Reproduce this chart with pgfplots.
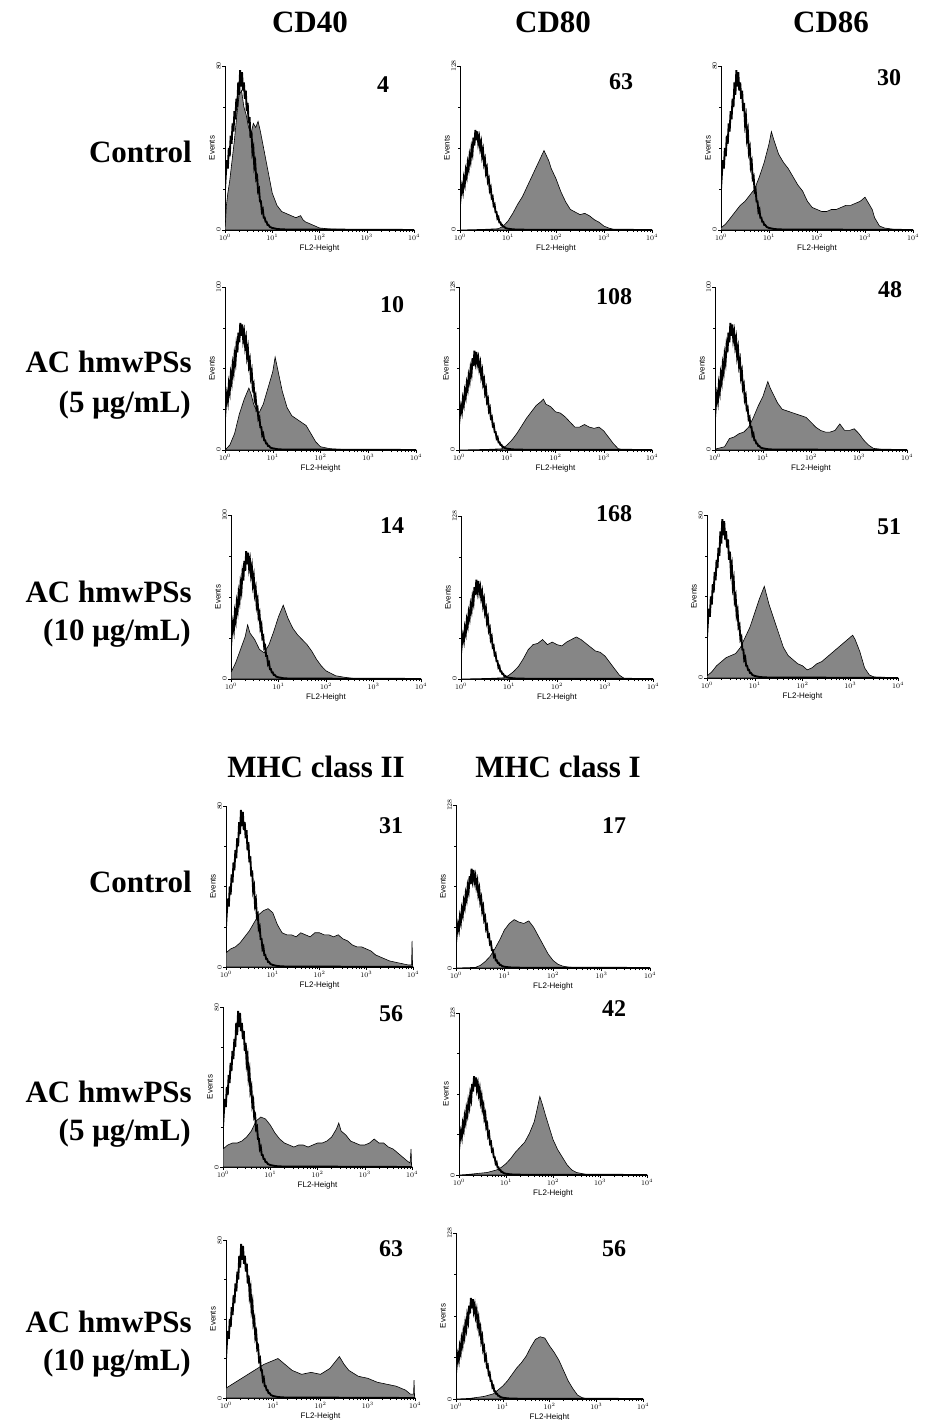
\documentclass[border=0pt]{standalone}
\usepackage{fontspec}
\setmainfont{Liberation Serif}
\setsansfont{Liberation Sans}
\usepackage{pgfplots}
\usepackage{pgfplotstable}
\pgfplotsset{compat=1.18}

% isotype control (same in every panel), x = log10(FL2)
\pgfplotstableread{
x y
0.00 20
0.02 28
0.04 34
0.06 30
0.08 40
0.10 36
0.12 46
0.14 42
0.16 52
0.18 48
0.20 58
0.22 54
0.24 64
0.26 60
0.28 72
0.30 66
0.32 78
0.34 70
0.36 77
0.38 68
0.40 72
0.42 64
0.44 68
0.46 58
0.48 62
0.50 52
0.52 55
0.54 45
0.56 48
0.58 38
0.60 40
0.62 31
0.64 33
0.66 25
0.68 26
0.70 19
0.72 20
0.74 14
0.76 14
0.78 9
0.80 10
0.82 6
0.84 6
0.86 4
0.88 4
0.90 2.5
0.92 2.5
0.95 1.5
1.00 1
1.10 0.5
1.20 0.3
1.40 0.2
2.00 0.2
3.00 0.1
4.00 0
}\tCtl

% CD40 control
\pgfplotstableread{
x y
0 0
0.03 12
0.06 18
0.1 24
0.15 34
0.2 44
0.25 56
0.3 66
0.35 68
0.4 60
0.45 56
0.5 50
0.55 47
0.6 52
0.65 50
0.7 53
0.75 48
0.8 42
0.85 36
0.9 30
0.95 24
1.0 18
1.05 15
1.1 12
1.2 9
1.3 8
1.4 7
1.5 6
1.6 7
1.65 5
1.7 4
1.8 3
1.9 2
2.0 1
2.2 0.5
2.5 0.2
4 0
}\tA
% CD80 control
\pgfplotstableread{
x y
0 0
0.5 0.5
0.8 1
0.9 3
1.0 7
1.1 13
1.2 20
1.3 26
1.4 34
1.5 42
1.6 50
1.7 58
1.75 62
1.8 58
1.85 54
1.9 48
2.0 40
2.1 30
2.2 22
2.3 16
2.4 14
2.5 12
2.6 13
2.7 11
2.8 8
2.9 6
3.0 3
3.1 1.5
3.2 0.5
3.4 0.2
4 0
}\tB
% CD86 control
\pgfplotstableread{
x y
0 1
0.1 3
0.2 6
0.3 9
0.4 12
0.5 14
0.6 17
0.7 20
0.8 26
0.9 33
1.0 42
1.05 48
1.1 44
1.2 37
1.3 33
1.4 30
1.5 26
1.6 22
1.7 19
1.8 14
1.9 11
2.0 10
2.1 9
2.2 9
2.3 10
2.4 10
2.5 11
2.6 12
2.7 12
2.8 13
2.9 14
3.0 16
3.1 12
3.15 10
3.2 6
3.3 2
3.4 1
3.6 0.3
4 0
}\tC
% CD40 5
\pgfplotstableread{
x y
0 0
0.1 3
0.2 10
0.3 22
0.4 31
0.5 38
0.55 34
0.6 28
0.7 22
0.8 28
0.9 38
1.0 48
1.05 57
1.1 50
1.2 36
1.3 26
1.4 21
1.5 19
1.6 17
1.7 15
1.8 10
1.9 5
2.0 2
2.2 0.8
2.5 0.3
4 0
}\tD
% CD80 5
\pgfplotstableread{
x y
0 0
0.6 0.5
0.9 1
1.0 4
1.1 8
1.2 13
1.3 19
1.4 25
1.5 30
1.6 35
1.7 38
1.75 40
1.8 36
1.9 34
2.0 30
2.1 29
2.2 26
2.3 22
2.4 18
2.5 18
2.6 20
2.7 18
2.8 17
2.9 18
3.0 15
3.1 10
3.2 5
3.3 1
3.4 0.2
4 0
}\tE
% CD86 5
\pgfplotstableread{
x y
0 0.5
0.2 2
0.3 7
0.4 8
0.5 10
0.6 11
0.7 14
0.8 20
0.9 27
1.0 33
1.1 42
1.15 38
1.2 35
1.3 29
1.4 25
1.5 24
1.6 23
1.7 22
1.8 21
1.9 20
2.0 17
2.1 14
2.2 12
2.3 11
2.4 11
2.5 12
2.6 16
2.7 12
2.8 12
2.9 13
3.0 10
3.1 6
3.2 3
3.3 1
3.5 0.3
4 0
}\tF
% CD40 10
\pgfplotstableread{
x y
0 4
0.1 10
0.2 18
0.3 26
0.35 33
0.4 28
0.5 24
0.6 18
0.7 16
0.8 21
0.9 29
1.0 38
1.1 45
1.2 37
1.3 31
1.4 27
1.5 24
1.6 21
1.7 17
1.8 12
1.9 8
2.0 5
2.2 2
2.4 1
2.6 0.3
4 0
}\tG
% CD80 10
\pgfplotstableread{
x y
0 0
0.6 0.5
0.9 1
1.0 3
1.1 6
1.2 10
1.3 16
1.4 23
1.5 27
1.6 28
1.7 31
1.8 27
1.9 29
2.0 27
2.1 26
2.2 29
2.3 31
2.4 33
2.5 31
2.6 28
2.7 25
2.8 22
2.9 21
3.0 18
3.1 13
3.2 8
3.3 3
3.4 0.5
3.6 0
4 0
}\tH
% CD86 10
\pgfplotstableread{
x y
0 1
0.1 3
0.2 6
0.3 8
0.4 10
0.5 11
0.6 12
0.7 15
0.8 20
0.9 25
1.0 32
1.1 39
1.2 45
1.3 36
1.4 29
1.5 22
1.6 15
1.7 11
1.8 9
1.9 7
2.0 6
2.1 4
2.2 5
2.3 7
2.4 8
2.5 10
2.6 12
2.7 14
2.8 16
2.9 18
3.0 20
3.05 21
3.1 19
3.2 13
3.3 5
3.4 1.5
3.5 0.5
4 0
}\tI
% MHC II control
\pgfplotstableread{
x y
0 7
0.1 9
0.2 10
0.3 12
0.4 15
0.5 18
0.6 22
0.7 26
0.8 28
0.9 29
1.0 27
1.1 21
1.2 17
1.3 16
1.4 16
1.5 15
1.6 17
1.7 16
1.8 15
1.9 17
2.0 17
2.1 16
2.2 16
2.3 15
2.4 16
2.5 14
2.6 13
2.7 11
2.8 10
2.9 10
3.0 9
3.1 8
3.2 6
3.3 5
3.4 4
3.5 3
3.6 2.5
3.7 2
3.8 1.5
3.9 1
3.97 1
3.98 13
3.99 1
4 0
}\tJ
% MHC I control
\pgfplotstableread{
x y
0 0
0.4 0.5
0.5 2
0.6 5
0.7 9
0.8 15
0.9 22
1.0 30
1.1 35
1.2 38
1.3 36
1.4 35
1.5 37
1.6 32
1.7 25
1.8 18
1.9 11
2.0 6
2.1 3
2.2 1.5
2.3 0.8
2.5 0.2
4 0
}\tK
% MHC II 5
\pgfplotstableread{
x y
0 9
0.1 11
0.2 12
0.3 12
0.4 13
0.5 15
0.6 18
0.7 23
0.8 25
0.9 24
1.0 21
1.1 17
1.2 14
1.3 12
1.4 11
1.5 10
1.6 11
1.7 11
1.8 10
1.9 11
2.0 12
2.1 12
2.2 13
2.3 15
2.4 19
2.45 22
2.5 18
2.6 16
2.7 13
2.8 12
2.9 11
3.0 11
3.1 12
3.2 14
3.3 12
3.4 12
3.5 10
3.6 9
3.7 7
3.8 5
3.9 3
3.96 2
3.98 9
3.99 1
4 0
}\tL
% MHC I 5
\pgfplotstableread{
x y
0 0
0.2 0.5
0.6 2
0.8 4
0.9 6
1.0 9
1.1 13
1.2 18
1.3 22
1.4 26
1.5 33
1.6 42
1.65 50
1.72 62
1.78 55
1.85 46
1.9 40
2.0 28
2.1 20
2.2 14
2.3 8
2.4 4
2.5 2
2.7 0.5
2.9 0
4 0
}\tM
% MHC II 10
\pgfplotstableread{
x y
0 5
0.2 8
0.4 11
0.6 14
0.8 17
1.0 19
1.1 20
1.2 18
1.3 16
1.4 14
1.5 13
1.6 12
1.8 13
2.0 12
2.2 15
2.3 18
2.4 21
2.5 17
2.6 14
2.8 11
3.0 10
3.2 8
3.4 7
3.6 6
3.8 4
3.9 2
3.97 2
3.98 9
3.99 1
4 0
}\tN
% MHC I 10
\pgfplotstableread{
x y
0 0
0.3 0.5
0.6 2
0.8 4
0.9 7
1.0 10
1.1 14
1.2 19
1.3 24
1.4 28
1.5 33
1.6 40
1.7 46
1.8 48
1.9 47
2.0 41
2.1 36
2.2 30
2.3 22
2.4 14
2.5 8
2.6 3
2.7 1
2.8 0.3
4 0
}\tO

\pgfplotsset{
  panel/.style={
    scale only axis, anchor=south west,
    xmin=0, xmax=4, ymin=0,
    axis x line*=bottom, axis y line*=left,
    axis line style={line width=0.7pt},
    xtick={0,1,2,3,4},
    xticklabels={$10^{0}$,$10^{1}$,$10^{2}$,$10^{3}$,$10^{4}$},
    minor xtick={0.301,0.477,0.602,0.699,0.778,0.845,0.903,0.954,
      1.301,1.477,1.602,1.699,1.778,1.845,1.903,1.954,
      2.301,2.477,2.602,2.699,2.778,2.845,2.903,2.954,
      3.301,3.477,3.602,3.699,3.778,3.845,3.903,3.954},
    minor y tick num=3,
    tick align=outside, tick style={black, line width=0.5pt},
    major tick length=3pt, minor tick length=2pt,
    xticklabel style={font=\sffamily\fontsize{7}{8}\selectfont, inner sep=1pt},
    yticklabel style={font=\sffamily\fontsize{7}{8}\selectfont, rotate=90, inner sep=1pt},
    xlabel={FL2-Height}, ylabel={Events},
    label style={font=\sffamily\fontsize{8}{9}\selectfont},
    xlabel style={yshift=0pt},
    ylabel style={yshift=-3pt},
  },
}

\newcommand{\panel}[6]{%
  \begin{axis}[panel, at={(#1pt,-#2pt)}, width=#3pt, height=#4pt,
      ymax=#5, ytick={0,#5}]
    \addplot[fill=gray!95, draw=black, line width=0.6pt, sharp plot] table {#6} \closedcycle;
    \addplot[black, line width=1.9pt, sharp plot] table {\tCtl};
  \end{axis}}

\begin{document}
\begin{tikzpicture}
\useasboundingbox (0pt,0pt) rectangle (925pt,-1420pt);

\tikzset{
  big/.style={font=\bfseries\fontsize{31}{36}\selectfont, inner sep=0pt},
  num/.style={font=\bfseries\fontsize{24}{28}\selectfont, inner sep=0pt},
}

% top block
\panel{225}{230}{189}{164}{80}{\tA}
\panel{460}{230}{192}{164}{128}{\tB}
\panel{721}{230}{192}{164}{80}{\tC}
\panel{225}{450}{191}{163}{100}{\tD}
\panel{459}{450}{193}{163}{128}{\tE}
\panel{715}{450}{192}{163}{100}{\tF}
\panel{231}{679}{190}{164}{100}{\tG}
\panel{461}{679}{192}{163}{128}{\tH}
\panel{707}{678}{191}{163}{80}{\tI}
% bottom block
\panel{226}{967}{187}{161}{80}{\tJ}
\panel{456}{968}{194}{163}{128}{\tK}
\panel{223}{1167}{189}{160}{80}{\tL}
\panel{459}{1175}{188}{162}{128}{\tM}
\panel{226}{1398}{189}{158}{80}{\tN}
\panel{456}{1399}{187}{166}{128}{\tO}

% column titles
\node[big] at (310pt,-22pt) {CD40};
\node[big] at (553pt,-22pt) {CD80};
\node[big] at (831pt,-22pt) {CD86};
\node[big] at (316pt,-767pt) {MHC class II};
\node[big] at (558pt,-767pt) {MHC class I};

% row labels
\node[big, anchor=east] at (192pt,-152pt) {Control};
\node[big, anchor=east] at (192pt,-362pt) {AC hmwPSs};
\node[big, anchor=east] at (191pt,-405pt) {(5 μg/mL)};
\node[big, anchor=east] at (192pt,-592pt) {AC hmwPSs};
\node[big, anchor=east] at (191pt,-633pt) {(10 μg/mL)};
\node[big, anchor=east] at (192pt,-882pt) {Control};
\node[big, anchor=east] at (192pt,-1092pt) {AC hmwPSs};
\node[big, anchor=east] at (191pt,-1133pt) {(5 μg/mL)};
\node[big, anchor=east] at (192pt,-1322pt) {AC hmwPSs};
\node[big, anchor=east] at (191pt,-1363pt) {(10 μg/mL)};

% MFI numbers
\node[num] at (383pt,-85pt) {4};
\node[num] at (621pt,-82pt) {63};
\node[num] at (889pt,-78pt) {30};
\node[num] at (392pt,-305pt) {10};
\node[num] at (614pt,-297pt) {108};
\node[num] at (890pt,-290pt) {48};
\node[num] at (392pt,-526pt) {14};
\node[num] at (614pt,-514pt) {168};
\node[num] at (889pt,-527pt) {51};
\node[num] at (391pt,-826pt) {31};
\node[num] at (614pt,-826pt) {17};
\node[num] at (391pt,-1014pt) {56};
\node[num] at (614pt,-1009pt) {42};
\node[num] at (391pt,-1249pt) {63};
\node[num] at (614pt,-1249pt) {56};
\end{tikzpicture}
\end{document}
